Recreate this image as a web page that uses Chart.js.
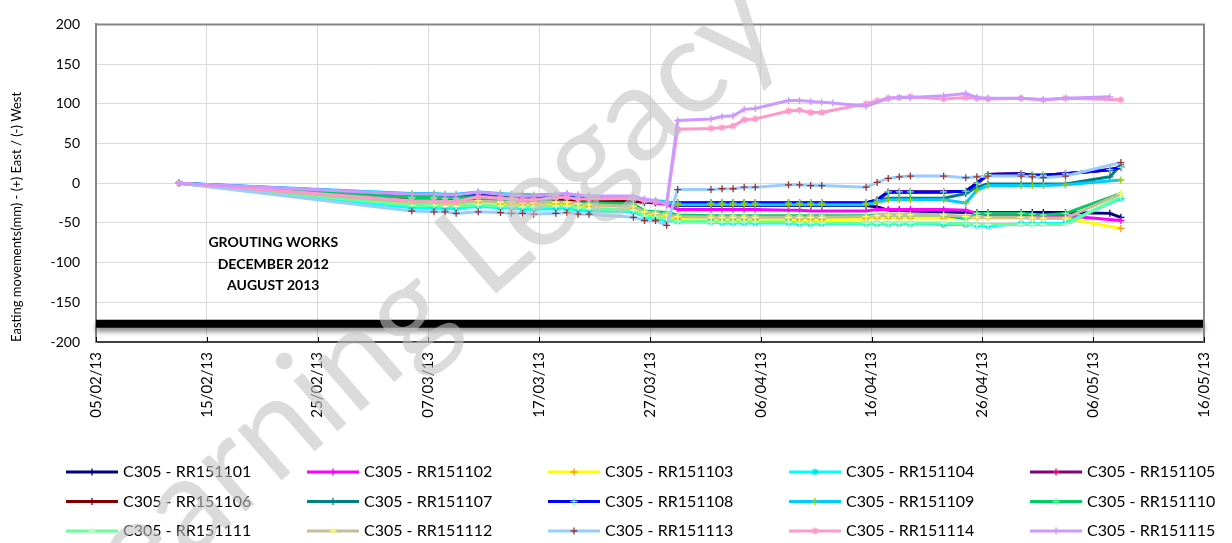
<!DOCTYPE html>
<html>
<head>
<meta charset="utf-8">
<script src="https://cdn.jsdelivr.net/npm/chart.js@4.4.1/dist/chart.umd.min.js"></script>
<style>
  html, body { margin: 0; padding: 0; background: #fff; }
  #wrap { width: 1232px; height: 543px; }
</style>
</head>
<body>
<div id="wrap"><canvas id="chart" width="1232" height="543"></canvas></div>
<script>
// ---------- Data ----------
const dates = ['12/02/13', '05/03/13', '07/03/13', '08/03/13', '09/03/13', '11/03/13', '13/03/13', '14/03/13',
    '15/03/13', '16/03/13', '18/03/13', '19/03/13', '20/03/13', '21/03/13', '25/03/13', '26/03/13', '27/03/13',
    '28/03/13', '29/03/13', '01/04/13', '02/04/13', '03/04/13', '04/04/13', '05/04/13', '08/04/13', '09/04/13',
    '10/04/13', '11/04/13', '12/04/13', '15/04/13', '16/04/13', '17/04/13', '18/04/13', '19/04/13', '22/04/13',
    '24/04/13', '25/04/13', '26/04/13', '29/04/13', '30/04/13', '01/05/13', '03/05/13', '07/05/13', '08/05/13'];

const labels = ['C305 - RR151101', 'C305 - RR151102', 'C305 - RR151103', 'C305 - RR151104', 'C305 - RR151105',
    'C305 - RR151106', 'C305 - RR151107', 'C305 - RR151108', 'C305 - RR151109', 'C305 - RR151110',
    'C305 - RR151111', 'C305 - RR151112', 'C305 - RR151113', 'C305 - RR151114', 'C305 - RR151115'];

const rr101 = [0, -18, -18, -19, -19, -17, -18, -18, -19, -19, -18, -18, -19, -19, -20, -22, -23, -24, -28, -28, -28, -28, -28, -28, -28, -28, -28, -28, null, -28, -30, -34, -34, -35, -36, -37, -37, -37, -37, -37, -37, -37, -38, -43];
const rr102 = [0, -21, -21, -22, -22, -19, -21, -21, -22, -22, -20, -20, -21, -22, -22, -24, -25, -27, -33, -33, -33, -33, -33, -33, -34, -34, -35, -35, null, -35, -33, -33, -33, -33, -33, -34, -38, -40, -40, -40, -41, -41, null, -47];
const rr103 = [0, -26, -26, -27, -27, -24, -26, -26, -27, -27, -26, -26, -28, -29, -32, -38, -40, -43, -45, -46, -46, -46, -46, -46, -46, -46, -46, -46, null, -45, -44, -44, -44, -44, -44, -43, -44, -44, -44, -44, -44, -44, null, -57];
const rr104 = [0, -31, -31, -32, -32, -29, -31, -31, -33, -33, -32, -32, -34, -35, -36, -42, -45, -47, -48, -49, -50, -50, -50, -50, -50, -51, -51, -51, null, -51, -51, -51, -51, -51, -52, -52, -53, -54, -51, -51, -51, -50, null, -19];
const rr105 = [0, -19, -19, -20, -20, -18, -19, -20, -20, -21, -20, -20, -21, -21, -22, -23, -24, -25, -25, -25, -25, -25, -25, -25, -25, -25, -25, -25, null, -25, -21, -11, -11, -11, -11, -10, 0, 11, 12, 10, 10, 12, 17, 20];
const rr106 = [0, -20, -20, -21, -21, -19, -20, -21, -21, -22, -21, -21, -22, -22, -23, -24, -24, -25, -25, -25, -25, -25, -25, -25, -25, -25, -25, -25, null, -25, -21, -11, -11, -11, -11, -10, 0, 11, 12, 10, 10, 12, 17, 20];
const rr107 = [0, -16, -16, -17, -17, -15, -16, -17, -17, -18, -17, -17, -18, -18, -19, -22, -23, -25, -26, -26, -26, -26, -26, -26, -26, -26, -26, -26, null, -26, -22, -19, -19, -19, -19, -13, -5, -1, -1, -1, -1, -1, 8, 23];
const rr108 = [0, -14, -14, -15, -15, -12, -14, -15, -15, -16, -15, -15, -16, -17, -20, -22, -23, -25, -25, -25, -25, -25, -25, -25, -25, -25, -25, -25, null, -25, -21, -11, -11, -11, -11, -10, 0, 11, 12, 10, 10, 12, 17, 20];
const rr109 = [0, -13, -13, -14, -14, -11, -13, -14, -14, -15, -14, -14, -15, -16, -18, -21, -22, -23, -27, -27, -27, -27, -27, -27, -27, -27, -27, -27, null, -27, -24, -21, -21, -21, -21, -25, -9, -3, -3, -3, -3, -2, null, 4];
const rr110 = [0, -18, -18, -19, -19, -18, -21, -21, -22, -22, -24, -24, -25, -25, -26, -35, -36, -37, -40, -41, -41, -41, -41, -41, -41, -41, -41, -41, null, -41, -40, -40, -40, -40, -40, -45, -38, -38, -38, -39, -40, -38, null, -13];
const rr111 = [0, -28, -28, -29, -29, -27, -29, -29, -30, -30, -29, -29, -31, -32, -34, -41, -43, -45, -48, -49, -49, -49, -49, -49, -49, -50, -50, -50, null, -50, -50, -50, -50, -50, -50, -51, -52, -52, -52, -52, -52, -52, null, -17];
const rr112 = [0, -24, -24, -25, -25, -22, -24, -24, -25, -25, -24, -24, -26, -27, -29, -36, -38, -40, -42, -43, -43, -43, -43, -43, -43, -43, -43, -43, null, -42, -41, -40, -40, -40, -40, -42, -43, -43, -43, -44, -44, -44, null, -13];
const rr113 = [0, -35, -36, -36, -38, -36, -37, -38, -38, -39, -38, -37, -39, -39, -43, -47, -47, -53, -8, -8, -7, -7, -5, -5, -2, -2, -3, -3, null, -5, 1, 6, 8, 9, 9, 7, 8, 9, 9, 8, 7, 9, null, 26];
const rr114 = [0, -22, -22, -23, -23, -17, -19, -20, -21, -21, -18, -18, -20, -20, -19, -22, -23, -26, 68, 69, 70, 72, 80, 81, 91, 92, 89, 89, null, 100, 104, 107, 108, 109, 106, 108, 107, 106, 107, null, 105, 107, null, 105];
const rr115 = [0, -14, -14, -15, -15, -11, -14, -15, -16, -16, -14, -13, -15, -16, -16, -20, -22, -26, 79, 81, 84, 85, 93, 94, 104, 104, 103, 102, 101, 97, null, 107, 108, 108, 110, 113, 108, 107, 107, null, 105, 107, 109, null];

const seriesValues = [rr101, rr102, rr103, rr104, rr105, rr106, rr107, rr108, rr109, rr110, rr111, rr112, rr113, rr114, rr115];

const yTicks = [-200, -150, -100, -50, 0, 50, 100, 150, 200];
const xStart = '05/02/13';
const xEnd = '16/05/13';
const xStepDays = 10;
const limitValue = -177;           // thick black reference line
const noteLines = ['GROUTING WORKS', 'DECEMBER 2012', 'AUGUST 2013'];
const noteAt = { date: '21/02/13', values: [-75, -102, -129] };
const watermarkText = 'Learning Legacy';

// ---------- Styles ----------
const lineColors = ['#000080', '#ff00ff', '#ffff00', '#00ffff', '#800080', '#800000', '#008080', '#0000ff',
    '#00ccff', '#00cc66', '#66ff99', '#c4bd97', '#99ccff', '#ff99cc', '#cc99ff'];
const markerColors = ['#000080', '#ff00ff', '#ff9900', '#00e5e5', '#ff0066', '#800000', '#008080', '#66ff99',
    '#99cc00', '#66ff99', '#ccffcc', '#ffff66', '#993333', '#ff99cc', '#cc99ff'];
const markerStyles = ['cross', 'cross', 'cross', 'star', 'cross', 'cross', 'cross', 'cross',
    'cross', 'cross', 'cross', 'cross', 'cross', 'star', 'cross'];
const FONT = 'Lato, "Open Sans", sans-serif';

// ---------- Date helpers ----------
const DAY = 86400000;
function parseDate(s) {
    const [d, m, y] = s.split('/').map(Number);
    return Date.UTC(2000 + y, m - 1, d);
}
const origin = parseDate(xStart);
const toDays = (s) => (parseDate(s) - origin) / DAY;
const pad = (n) => String(n).padStart(2, '0');
function fmtDay(v) {
    const d = new Date(origin + Math.round(v) * DAY);
    return pad(d.getUTCDate()) + '/' + pad(d.getUTCMonth() + 1) + '/' + pad(d.getUTCFullYear() % 100);
}
const readTime = 0.5; // readings taken around midday

// ---------- Datasets ----------
const datasets = seriesValues.map((vals, i) => ({
    label: labels[i],
    data: vals.map((v, k) => ({ x: toDays(dates[k]) + readTime, y: v })),
    borderColor: lineColors[i],
    backgroundColor: lineColors[i],
    borderWidth: 3,
    pointStyle: markerStyles[i],
    pointRadius: 3.5,
    pointBorderWidth: 1.3,
    pointBorderColor: markerColors[i],
    pointBackgroundColor: markerColors[i],
    spanGaps: true,
    tension: 0,
    order: seriesValues.length - 1 - i   // later series drawn on top
}));

// ---------- Extras: band, note, frame, legend, watermark ----------
const extras = {
    id: 'extras',
    afterDatasetsDraw(chart) {
        const { ctx, chartArea: a, scales: { x, y } } = chart;

        ctx.save();
        const yb = y.getPixelForValue(limitValue);
        ctx.shadowColor = 'rgba(0,0,0,0.45)';
        ctx.shadowBlur = 5;
        ctx.shadowOffsetY = 4;
        ctx.fillStyle = '#000';
        ctx.fillRect(a.left, yb - 4, a.right - a.left, 8);
        ctx.restore();

        ctx.save();
        ctx.font = 'bold 14px ' + FONT;
        ctx.fillStyle = '#000';
        ctx.textAlign = 'center';
        ctx.textBaseline = 'middle';
        const nx = x.getPixelForValue(toDays(noteAt.date));
        noteLines.forEach((t, k) => ctx.fillText(t, nx, y.getPixelForValue(noteAt.values[k])));
        ctx.restore();

        ctx.save();
        ctx.strokeStyle = '#868686';
        ctx.lineWidth = 2;
        ctx.beginPath();
        ctx.moveTo(a.left, a.top);
        ctx.lineTo(a.right, a.top);
        ctx.lineTo(a.right, a.bottom);
        ctx.stroke();
        ctx.strokeStyle = '#000';
        ctx.lineWidth = 1;
        ctx.beginPath();
        x.ticks.forEach(t => {
            const px = Math.round(x.getPixelForValue(t.value)) + 0.5;
            ctx.moveTo(px, a.bottom);
            ctx.lineTo(px, a.bottom - 5);
        });
        ctx.stroke();
        ctx.restore();
    },
    afterDraw(chart) {
        const ctx = chart.ctx;
        // legend grid: 5 columns x 3 rows
        ctx.save();
        ctx.font = '16px ' + FONT;
        ctx.textBaseline = 'middle';
        chart.data.datasets.forEach((ds, i) => {
            const col = i % 5, row = Math.floor(i / 5);
            const x0 = 66 + col * 241;
            const yy = 472 + row * 29.5;
            ctx.strokeStyle = ds.borderColor;
            ctx.lineWidth = 3;
            ctx.beginPath();
            ctx.moveTo(x0, yy);
            ctx.lineTo(x0 + 52, yy);
            ctx.stroke();
            ctx.strokeStyle = ds.pointBorderColor;
            ctx.lineWidth = 1.3;
            Chart.helpers.drawPoint(ctx, { pointStyle: ds.pointStyle, radius: 3.5, borderWidth: 1.3, rotation: 0 }, x0 + 26, yy);
            ctx.fillStyle = '#000';
            ctx.fillText(ds.label, x0 + 57, yy);
        });
        ctx.restore();

        // watermark
        ctx.save();
        ctx.translate(410, 312);
        ctx.rotate(-41 * Math.PI / 180);
        ctx.font = '132px ' + FONT;
        ctx.fillStyle = 'rgba(195,195,195,0.6)';
        ctx.textAlign = 'center';
        ctx.textBaseline = 'middle';
        ctx.fillText(watermarkText, 0, 0);
        ctx.restore();
    }
};

// ---------- Chart ----------
new Chart(document.getElementById('chart'), {
    type: 'line',
    data: { datasets },
    options: {
        responsive: false,
        animation: false,
        events: [],
        layout: { padding: { top: 17, right: 18, left: 0, bottom: 0 } },
        plugins: { legend: { display: false }, tooltip: { enabled: false } },
        scales: {
            x: {
                type: 'linear',
                min: 0,
                max: toDays(xEnd),
                afterFit: (s) => { s.height = 201; },
                afterBuildTicks: (s) => {
                    const t = [];
                    for (let v = 0; v <= toDays(xEnd); v += xStepDays) t.push({ value: v });
                    s.ticks = t;
                },
                ticks: {
                    autoSkip: false,
                    minRotation: 90,
                    maxRotation: 90,
                    padding: 10,
                    color: '#000',
                    font: { family: FONT, size: 15 },
                    callback: (v) => fmtDay(v)
                },
                grid: { color: '#d9d9d9', lineWidth: 1, drawTicks: false },
                border: { color: '#404040', width: 2 }
            },
            y: {
                min: yTicks[0],
                max: yTicks[yTicks.length - 1],
                afterFit: (s) => { s.width = 96; },
                afterBuildTicks: (s) => { s.ticks = yTicks.map(v => ({ value: v })); },
                ticks: { padding: 16, color: '#000', font: { family: FONT, size: 14 } },
                grid: { color: '#d9d9d9', lineWidth: 1, drawTicks: false },
                border: { color: '#868686', width: 2 },
                title: {
                    display: true,
                    text: 'Easting movements(mm) - (+) East / (-) West',
                    align: 'start',
                    color: '#000',
                    font: { family: FONT, size: 13 },
                    padding: { top: 9, bottom: 0 }
                }
            }
        }
    },
    plugins: [extras]
});
</script>
</body>
</html>
